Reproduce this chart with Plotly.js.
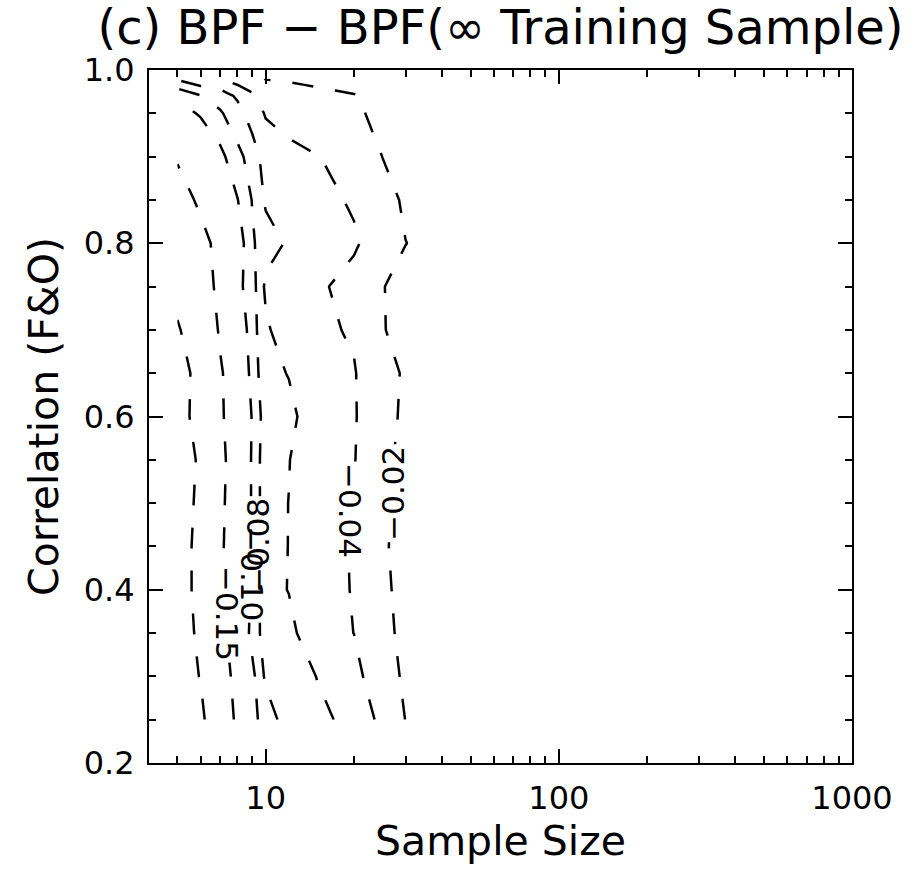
<!DOCTYPE html>
<html>
<head>
<meta charset="utf-8">
<script src="https://cdn.plot.ly/plotly-3.0.1.min.js"></script>
<style>html,body{margin:0;padding:0;background:#fff;}#chart{width:915px;height:869px;}</style>
</head>
<body>
<div id="chart"></div>
<script>
// ---- data ----
const sampleSize = [5, 6, 7, 8, 9, 10, 12, 15, 20, 25, 30, 40, 60, 100, 200, 500, 1000];
const correlation = [0.25, 0.30, 0.35, 0.40, 0.45, 0.50, 0.55, 0.60, 0.65, 0.70, 0.75, 0.80, 0.85, 0.90, 0.95, 0.97, 0.99];
// BPF - BPF(infinite training sample); one row per correlation, one column per sample size
const bpfDiff = [
  [-0.222, -0.2066, -0.175, -0.1438, -0.1058, -0.092, -0.0685, -0.063, -0.0563, -0.0339, -0.0197, -0.014, -0.009, -0.005, -0.0025, -0.001, -0.0005],
  [-0.2123, -0.199, -0.175, -0.1347, -0.106, -0.0761, -0.068, -0.0596, -0.0455, -0.0283, -0.0172, -0.013, -0.008, -0.005, -0.0025, -0.001, -0.0005],
  [-0.2129, -0.195, -0.165, -0.1255, -0.0928, -0.0703, -0.0655, -0.0459, -0.0399, -0.0255, -0.0151, -0.011, -0.007, -0.0045, -0.0022, -0.001, -0.0005],
  [-0.211, -0.193, -0.156, -0.1098, -0.0983, -0.0662, -0.0594, -0.046, -0.0392, -0.024, -0.014, -0.010, -0.007, -0.0045, -0.0022, -0.001, -0.0005],
  [-0.2094, -0.194, -0.158, -0.1199, -0.0983, -0.0662, -0.0597, -0.0455, -0.039, -0.0235, -0.011, -0.008, -0.006, -0.004, -0.002, -0.001, -0.0005],
  [-0.2093, -0.196, -0.163, -0.1149, -0.0987, -0.0659, -0.0598, -0.0455, -0.0388, -0.0245, -0.012, -0.0085, -0.006, -0.004, -0.002, -0.001, -0.0005],
  [-0.2113, -0.197, -0.165, -0.1195, -0.0983, -0.0662, -0.0605, -0.048, -0.0408, -0.026, -0.0135, -0.0095, -0.0065, -0.004, -0.002, -0.001, -0.0005],
  [-0.213, -0.188, -0.157, -0.1237, -0.0988, -0.0694, -0.0655, -0.0472, -0.0412, -0.0292, -0.0153, -0.011, -0.007, -0.0045, -0.0022, -0.001, -0.0005],
  [-0.219, -0.185, -0.154, -0.129, -0.0918, -0.0662, -0.0591, -0.050, -0.0408, -0.0308, -0.0164, -0.012, -0.008, -0.005, -0.0025, -0.001, -0.0005],
  [-0.2024, -0.185, -0.1452, -0.1203, -0.0886, -0.064, -0.0454, -0.0425, -0.0387, -0.0206, -0.0166, -0.012, -0.008, -0.005, -0.0025, -0.001, -0.0005],
  [-0.192, -0.175, -0.1377, -0.1065, -0.089, -0.0557, -0.051, -0.043, -0.0336, -0.0205, -0.016, -0.012, -0.008, -0.005, -0.0025, -0.001, -0.0005],
  [-0.185, -0.172, -0.129, -0.1135, -0.0828, -0.0688, -0.0574, -0.050, -0.0425, -0.030, -0.0202, -0.0152, -0.010, -0.006, -0.003, -0.0012, -0.0006],
  [-0.1834, -0.137, -0.118, -0.1011, -0.0791, -0.0571, -0.052, -0.046, -0.0377, -0.026, -0.0177, -0.012, -0.008, -0.005, -0.0025, -0.001, -0.0005],
  [-0.143, -0.123, -0.1064, -0.085, -0.0731, -0.0488, -0.045, -0.0405, -0.0349, -0.0199, -0.016, -0.011, -0.007, -0.004, -0.002, -0.001, -0.0005],
  [-0.109, -0.0976, -0.082, -0.070, -0.0483, -0.0388, -0.033, -0.028, -0.0225, -0.01625, -0.013, -0.009, -0.006, -0.004, -0.002, -0.001, -0.0005],
  [-0.097, -0.0815, -0.0721, -0.0564, -0.0445, -0.0241, -0.0232, -0.0222, -0.021, -0.016, -0.012, -0.009, -0.006, -0.004, -0.002, -0.001, -0.0005],
  [-0.057, -0.044, -0.0395, -0.0312, -0.022, -0.0198, -0.0192, -0.0179, -0.0127, -0.010, -0.008, -0.006, -0.004, -0.003, -0.0015, -0.0007, -0.0003]
];
const contourLevels = [-0.20, -0.15, -0.10, -0.08, -0.06, -0.04, -0.02];

const xTickVals = [10, 100, 1000];
const xTickText = ['10', '100', '1000'];
const xMinorTickVals = [5, 6, 7, 8, 9, 20, 30, 40, 50, 60, 70, 80, 90, 200, 300, 400, 500, 600, 700, 800, 900];
const yTickVals = [0.2, 0.4, 0.6, 0.8, 1.0];
const yTickText = ['0.2', '0.4', '0.6', '0.8', '1.0'];

const labelText = ['\u22120.02', '\u22120.04', '\u22120.08', '\u22120.10', '\u22120.15'];
const labelSample = [27.0, 19.4, 9.35, 8.99, 7.38];
const labelCorr = [0.511, 0.492, 0.451, 0.419, 0.372];
const labelAngle = [-90, 90, -90, 90, 90];

// ---- traces ----
const traces = contourLevels.map(function (lv) {
  return {
    type: 'contour',
    x: sampleSize,
    y: correlation,
    z: bpfDiff,
    autocontour: false,
    contours: { start: lv, end: lv, size: 1, coloring: 'none', showlabels: false },
    line: { color: '#000', width: 2.5, dash: '21px,22px', smoothing: 0 },
    showscale: false,
    hoverinfo: 'skip'
  };
});

const FONT = 'DejaVu Sans, Verdana, sans-serif';

// label boxes (white, to break the lines) then the label texts on top
const boxAnn = labelText.map(function (t, i) {
  return {
    x: Math.log10(labelSample[i]), y: labelCorr[i], xref: 'x', yref: 'y',
    text: t, showarrow: false, textangle: labelAngle[i],
    font: { family: FONT, size: 31, color: 'rgba(0,0,0,0)' },
    bgcolor: '#ffffff', borderpad: 1
  };
});
const textAnn = labelText.map(function (t, i) {
  return {
    x: Math.log10(labelSample[i]), y: labelCorr[i], xref: 'x', yref: 'y',
    text: t, showarrow: false, textangle: labelAngle[i],
    font: { family: FONT, size: 31, color: '#000' }
  };
});

const axisCommon = {
  ticks: 'inside', ticklen: 14, tickwidth: 2, tickcolor: '#000',
  showline: true, linewidth: 2, linecolor: '#000', mirror: 'ticks',
  showgrid: false, zeroline: false, automargin: false,
  tickfont: { family: FONT, size: 32, color: '#000' }
};

const layout = Object.assign({
  width: 915, height: 869,
  margin: { l: 149, r: 63, t: 70, b: 106, pad: 0 },
  paper_bgcolor: '#ffffff', plot_bgcolor: '#ffffff',
  font: { family: FONT, color: '#000' },
  showlegend: false,
  title: {
    text: '(c) BPF \u2212 BPF(\u221e Training Sample)',
    font: { family: FONT, size: 48, color: '#000' },
    x: 0.5, xref: 'paper', xanchor: 'center',
    y: 0.969, yref: 'container', yanchor: 'middle'
  },
  xaxis: Object.assign({}, axisCommon, {
    type: 'log', range: [Math.log10(4), 3],
    tickmode: 'array', tickvals: xTickVals, ticktext: xTickText,
    ticklabelstandoff: 6,
    minor: { tickmode: 'array', tickvals: xMinorTickVals, ticks: 'inside', ticklen: 7, tickwidth: 2, tickcolor: '#000', showgrid: false },
    title: { text: 'Sample Size', font: { family: FONT, size: 41, color: '#000' }, standoff: 6 }
  }),
  yaxis: Object.assign({}, axisCommon, {
    range: [0.2, 1.0],
    tickmode: 'array', tickvals: yTickVals, ticktext: yTickText,
    ticklabelstandoff: 6,
    minor: { tick0: 0.2, dtick: 0.05, ticks: 'inside', ticklen: 7, tickwidth: 2, tickcolor: '#000', showgrid: false },
    title: { text: 'Correlation (F&amp;O)', font: { family: FONT, size: 41, color: '#000' }, standoff: 12 }
  }),
  annotations: boxAnn.concat(textAnn)
});

Plotly.newPlot('chart', traces, layout, { staticPlot: true, displayModeBar: false });
</script>
</body>
</html>
